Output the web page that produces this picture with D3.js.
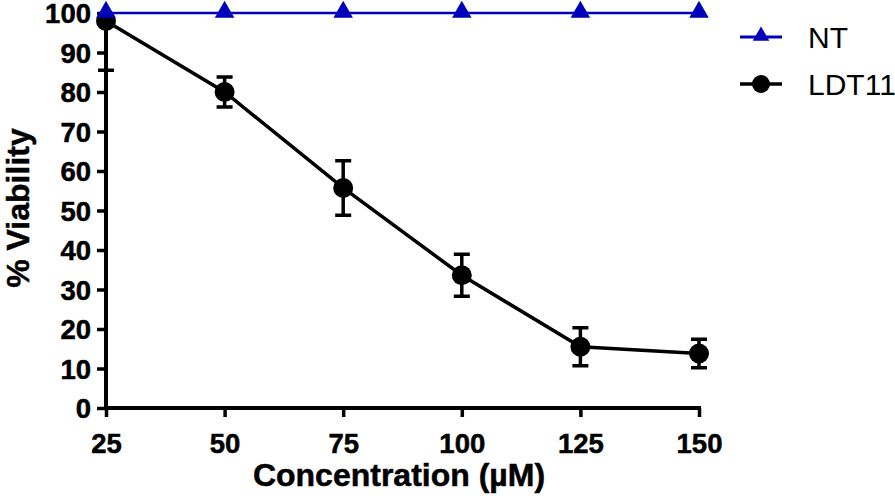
<!DOCTYPE html>
<html>
<head>
<meta charset="utf-8">
<script src="https://cdn.jsdelivr.net/npm/d3@7/dist/d3.min.js"></script>
<style>
  html, body { margin: 0; padding: 0; background: #fff; }
  svg { display: block; }
  text { font-family: "Liberation Sans", Arial, sans-serif; }
</style>
</head>
<body>
<svg id="chart" width="895" height="502"></svg>
<script>
const concentrations = [25, 50, 75, 100, 125, 150];
const ntValues = [100, 100, 100, 100, 100, 100];
const ldtValues = [98, 80, 55.7, 33.6, 15.5, 13.8];
const ldtErrors = [12.5, 3.8, 6.9, 5.3, 4.8, 3.6];
const yTicks = [0, 10, 20, 30, 40, 50, 60, 70, 80, 90, 100];
const xTicks = [25, 50, 75, 100, 125, 150];
const seriesNames = ["NT", "LDT11"];

(function () {
const svg = d3.select("#chart");
const pLeft = 106, pRight = 699, pTop = 13, pBottom = 408;
const x = d3.scaleLinear().domain([25, 150]).range([pLeft, pRight]);
const y = d3.scaleLinear().domain([0, 100]).range([pBottom, pTop]);
const blue = "#0000bb";

svg.append("defs").append("clipPath").attr("id", "plotclip")
  .append("rect").attr("x", 0).attr("y", pTop).attr("width", 895).attr("height", 502 - pTop);

// Y axis
const yAxis = svg.append("g").attr("transform", `translate(${pLeft},0)`)
  .call(d3.axisLeft(y).tickValues(yTicks).tickSize(9).tickPadding(6).tickFormat(d3.format("d")));
yAxis.select(".domain").attr("d", `M0,${pTop}V${pBottom + 2}`).attr("stroke", "#000").attr("stroke-width", 4);
yAxis.selectAll(".tick line").attr("stroke", "#000").attr("stroke-width", 3.5);
yAxis.selectAll(".tick text").attr("font-size", 27.5).attr("font-weight", "bold").attr("fill", "#000")
  .attr("stroke", "#000").attr("stroke-width", 0.5).attr("dy", "0.36em");

// X axis
const xAxis = svg.append("g").attr("transform", `translate(0,${pBottom})`)
  .call(d3.axisBottom(x).tickValues(xTicks).tickSize(9).tickPadding(16).tickFormat(d3.format("d")));
xAxis.select(".domain").attr("d", `M${pLeft - 2},0H${pRight + 2}`).attr("stroke", "#000").attr("stroke-width", 4);
xAxis.selectAll(".tick line").attr("stroke", "#000").attr("stroke-width", 3.5);
xAxis.selectAll(".tick text").attr("font-size", 27.5).attr("font-weight", "bold").attr("fill", "#000")
  .attr("stroke", "#000").attr("stroke-width", 0.5);

// Axis titles
svg.append("text").attr("x", 399).attr("y", 486).attr("text-anchor", "middle")
  .attr("font-size", 32).attr("font-weight", "bold").attr("stroke", "#000").attr("stroke-width", 0.5)
  .text("Concentration (µM)");
svg.append("text").attr("transform", "translate(29,208) rotate(-90)").attr("text-anchor", "middle")
  .attr("font-size", 32).attr("font-weight", "bold").attr("stroke", "#000").attr("stroke-width", 0.5)
  .text("% Viability");

// NT series
const ntData = concentrations.map((c, i) => ({ x: c, y: ntValues[i] }));
const line = d3.line().x(d => x(d.x)).y(d => y(d.y));
svg.append("path").datum(ntData).attr("d", line).attr("fill", "none")
  .attr("stroke", blue).attr("stroke-width", 2.5);

// LDT11 series
const ldtData = concentrations.map((c, i) => ({ x: c, y: ldtValues[i], e: ldtErrors[i] }));
const eg = svg.append("g").attr("clip-path", "url(#plotclip)");
const cap = 8;
ldtData.forEach(d => {
  const y1 = y(d.y + d.e), y2 = y(d.y - d.e), cx = x(d.x);
  eg.append("path")
    .attr("d", `M${cx},${y1}V${y2}M${cx - cap},${y1}H${cx + cap}M${cx - cap},${y2}H${cx + cap}`)
    .attr("stroke", "#000").attr("stroke-width", 3.5).attr("fill", "none");
});
svg.append("path").datum(ldtData).attr("d", line).attr("fill", "none")
  .attr("stroke", "#000").attr("stroke-width", 3.5);
svg.selectAll("circle.ldt").data(ldtData).enter().append("circle")
  .attr("class", "ldt").attr("cx", d => x(d.x)).attr("cy", d => y(d.y)).attr("r", 10).attr("fill", "#000");

// NT triangles (on top)
const tri = d3.symbol().type(d3.symbolTriangle).size(165);
svg.selectAll("path.nt").data(ntData).enter().append("path")
  .attr("class", "nt").attr("d", tri)
  .attr("transform", d => `translate(${x(d.x)},${y(d.y) - 1})`).attr("fill", blue);

// Legend
const lg = svg.append("g");
const legendY = [37, 84];
lg.append("line").attr("x1", 740).attr("x2", 782).attr("y1", legendY[0]).attr("y2", legendY[0])
  .attr("stroke", blue).attr("stroke-width", 3);
lg.append("path").attr("d", d3.symbol().type(d3.symbolTriangle).size(120))
  .attr("transform", `translate(761,${legendY[0] - 1})`).attr("fill", blue);
lg.append("line").attr("x1", 740).attr("x2", 782).attr("y1", legendY[1]).attr("y2", legendY[1])
  .attr("stroke", "#000").attr("stroke-width", 3.5);
lg.append("circle").attr("cx", 761).attr("cy", legendY[1]).attr("r", 9).attr("fill", "#000");
seriesNames.forEach((n, i) => {
  lg.append("text").attr("x", 808).attr("y", legendY[i] + 11).attr("font-size", 30)
    .attr("fill", "#000").text(n);
});
})();
</script>
</body>
</html>
